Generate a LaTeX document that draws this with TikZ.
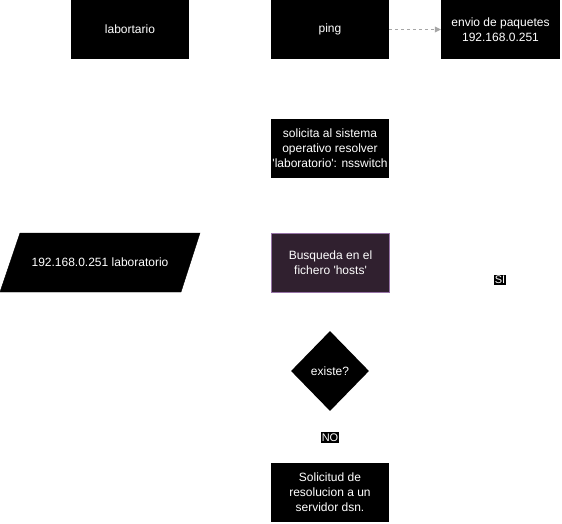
\documentclass[tikz,border=0pt]{standalone}
\usepackage{fontspec}
\setmainfont{Liberation Sans}
\usetikzlibrary{shapes.geometric,arrows.meta}
\definecolor{boxpurple}{HTML}{30202F}
\definecolor{edgepurple}{HTML}{9673A6}
\newcommand{\sq}{\textquotesingle}
\tikzset{
  blk/.style={fill=black, text=white, minimum width=118pt, minimum height=59pt, inner sep=0pt, align=center, font=\fontsize{12}{15}\selectfont},
  lbl/.style={fill=black, text=white, inner sep=1.2pt, font=\fontsize{11}{12}\selectfont},
}
\begin{document}
\begin{tikzpicture}[x=1pt,y=-1pt]
\useasboundingbox (0,0) rectangle (562,524);
\node[blk] (lab) at (130,29.5) {labortario};
\node[blk] (ping) at (330,29.5) {ping};
\node[blk, minimum width=119pt] (envio) at (500.5,29.5) {envio de paquetes\\192.168.0.251};
\draw[gray!70, dashed, -{Triangle[length=6pt,width=6pt]}] (ping.east) -- (envio.west);
\node[blk] (sol) at (330,148.5) {solicita al sistema\\operativo resolver\\\sq laboratorio\sq: nsswitch};
\node[blk, fill=boxpurple, draw=edgepurple, line width=0.8pt] (busq) at (330.5,262.5) {Busqueda en el\\fichero \sq hosts\sq};
\filldraw[black] (20,233) -- (200,233) -- (181,292) -- (0,292) -- cycle;
\node[text=white, font=\fontsize{12}{15}\selectfont] (par) at (100,262.5) {192.168.0.251 laboratorio};
\node[diamond, fill=black, text=white, minimum width=78pt, minimum height=80pt, inner sep=0pt, font=\fontsize{12}{15}\selectfont] (ex) at (330,371) {existe?};
\node[lbl] (si) at (500,280) {SI};
\node[lbl] (no) at (330,437.5) {NO};
\node[blk] (dns) at (330,492.5) {Solicitud de\\resolucion a un\\servidor dsn.};
\end{tikzpicture}
\end{document}
